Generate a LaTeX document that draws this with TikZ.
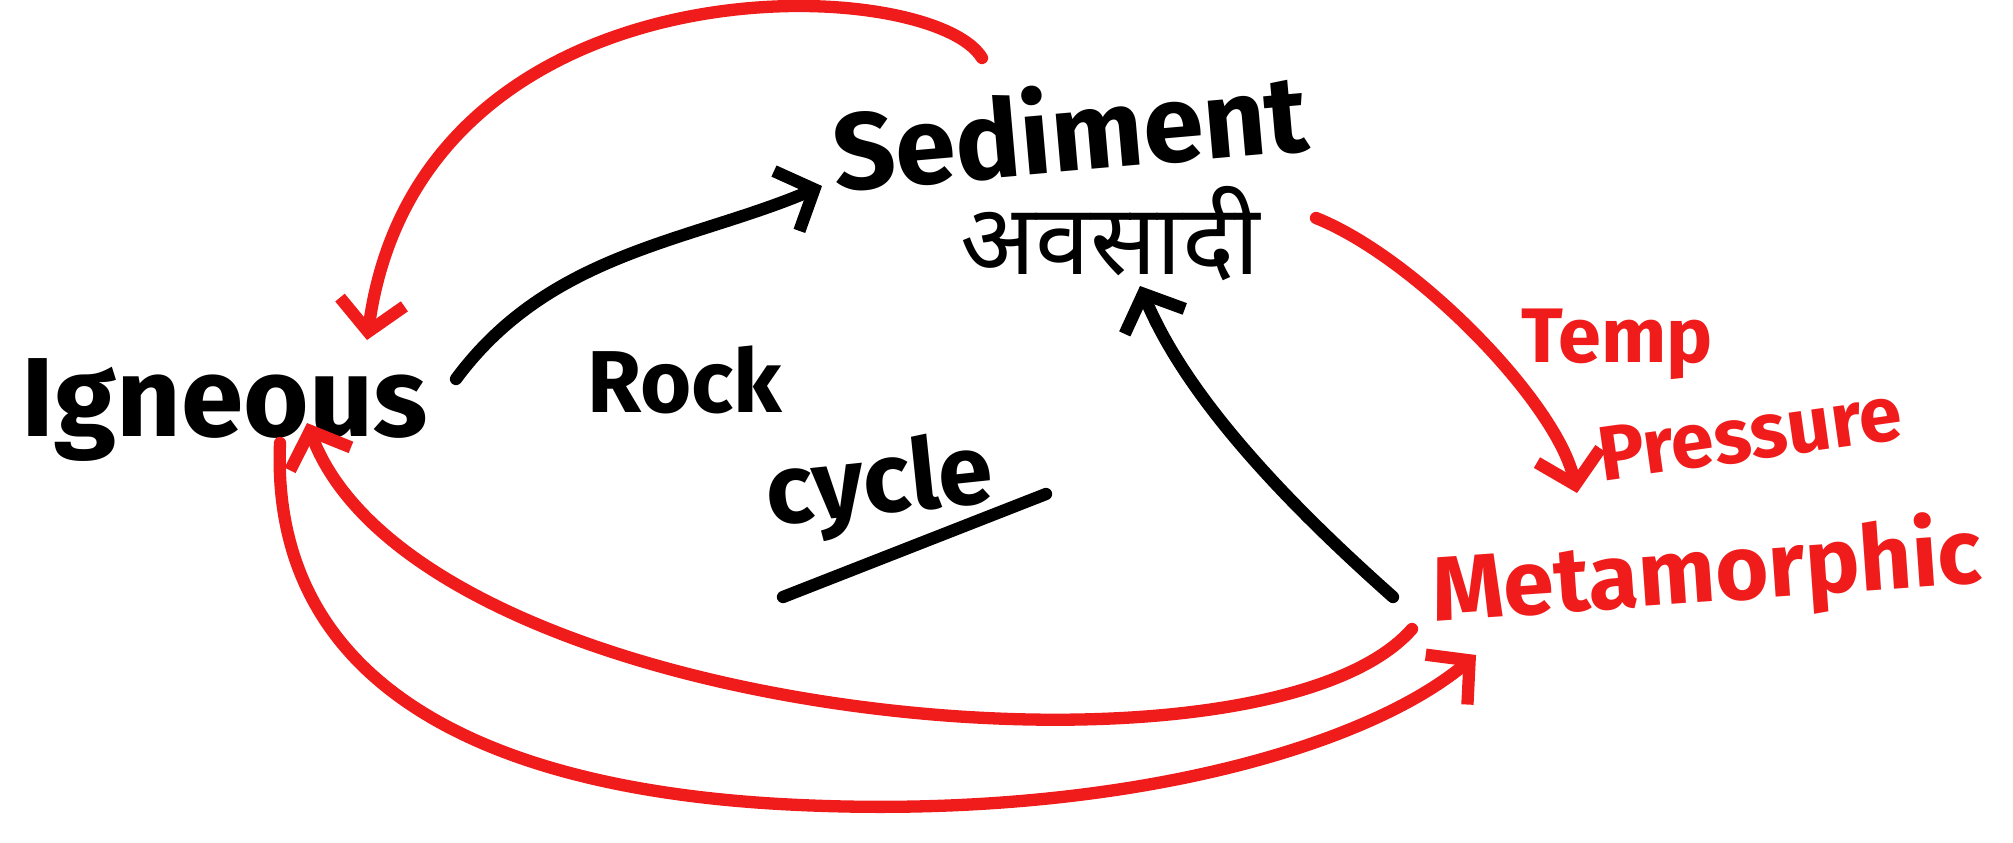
\documentclass[tikz,border=0pt]{standalone}
\usepackage{fontspec}
\setmainfont{Fira Sans}
\newfontfamily\devfont[Script=Devanagari]{Noto Sans}
\usepackage{tikz}
\usetikzlibrary{arrows.meta}
\usepackage{xcolor}
\definecolor{inkred}{RGB}{240,28,28}

\begin{document}
\begin{tikzpicture}[>={Straight Barb[length=3mm,width=6.5mm]},line width=3.5pt,line cap=round,line join=round,
  word/.style={inner sep=0pt,font=\bfseries\fontsize{#1}{#1}\selectfont},
  hindi/.style={inner sep=0pt,font=\devfont\bfseries\fontsize{#1}{#1}\selectfont},
  redink/.style={draw=inkred,text=inkred}]
\useasboundingbox (0,0) rectangle (20.13,8.42);
\node[word=32pt] (ign) at (2.25,4.32) {Igneous};
\node[word=31pt,rotate=5] (sed) at (10.7,7.14) {Sediment};
\node[hindi=28pt] (avs) at (11.1,6.08) {अवसादी};
\node[word=25pt] (rock) at (6.85,4.62) {Rock};
\node[word=28pt,rotate=6] (cyc) at (8.8,3.55) {cycle};
\node[word=22pt,text=inkred] (tem) at (16.17,4.98) {Temp};
\node[word=22pt,text=inkred,rotate=8] (pres) at (17.5,4.08) {Pressure};
\node[word=26pt,text=inkred,rotate=4] (met) at (17.07,2.67) {Metamorphic};
\draw ([shift={(-0.97,-1.1)}]cyc.center) -- ([shift={(1.66,-0.07)}]cyc.center);
\draw[->] ([shift={(2.31,0.31)}]ign.center) .. controls +(0.94,1.27) and +(-1.32,-0.56) .. ([shift={(-2.48,-0.58)}]sed.center);
\draw[->,redink] ([shift={(-0.88,0.7)}]sed.center) .. controls +(-0.52,0.86) and +(0.53,3.88) .. ([shift={(1.42,0.7)}]ign.center);
\draw[->,redink] ([shift={(2.06,0.16)}]avs.center) .. controls +(1.0,-0.4) and +(-0.2,0.9) .. ([shift={(-1.3,0.82)}]met.center);
\draw[->] ([shift={(-3.14,-0.22)}]met.center) .. controls +(-0.9,0.8) and +(0.5,-1.2) .. ([shift={(0.3,-0.52)}]avs.center);
\draw[->,redink] ([shift={(-2.95,-0.54)}]met.center) .. controls +(-1.52,-1.73) and +(1.13,-2.99) .. ([shift={(0.82,-0.13)}]ign.center);
\draw[->,redink] ([shift={(0.55,-0.33)}]ign.center) .. controls +(-0.1,-2.39) and +(-3.0,0.17) .. (7.8,0.38)
  .. controls +(3.2,-0.18) and +(-1.16,-0.97) .. ([shift={(-2.31,-0.8)}]met.center);
\end{tikzpicture}
\end{document}
